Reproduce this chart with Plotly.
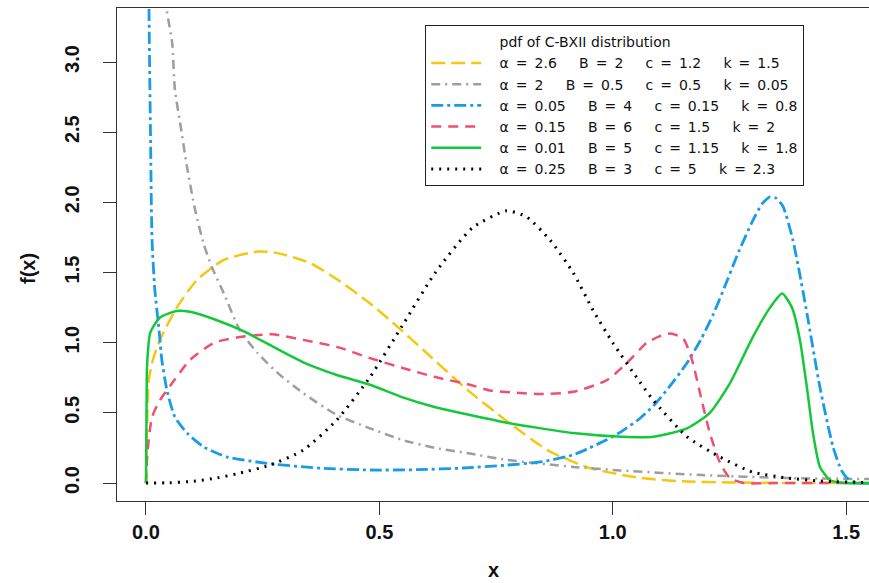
import plotly.graph_objects as go

# ---- data ----
yellow_x = [0, 0.002, 0.006, 0.015, 0.03, 0.066, 0.11, 0.167, 0.24, 0.28, 0.35, 0.41, 0.48, 0.54, 0.61, 0.69, 0.77, 0.86, 0.95, 1.06, 1.15, 1.25, 1.4, 1.6]
yellow_y = [0, 0.35, 0.73, 0.88, 1.02, 1.25, 1.45, 1.59, 1.65, 1.64, 1.57, 1.45, 1.28, 1.11, 0.90, 0.66, 0.45, 0.235, 0.107, 0.036, 0.012, 0.004, 0.0, 0.0]

gray_x = [0.01, 0.02, 0.03, 0.045, 0.056, 0.062, 0.073, 0.088, 0.105, 0.124, 0.141, 0.167, 0.201, 0.238, 0.28, 0.337, 0.409, 0.48, 0.55, 0.62, 0.694, 0.773, 0.915, 1.016, 1.19, 1.37, 1.55]
gray_y = [6.0, 4.6, 3.9, 3.36, 3.14, 2.80, 2.57, 2.25, 1.95, 1.70, 1.54, 1.35, 1.09, 0.93, 0.79, 0.64, 0.485, 0.39, 0.306, 0.25, 0.21, 0.165, 0.115, 0.09, 0.057, 0.036, 0.028]

blue_x = [0.003, 0.0064, 0.0096, 0.013, 0.019, 0.028, 0.034, 0.045, 0.062, 0.088, 0.124, 0.174, 0.238, 0.28, 0.38, 0.48, 0.58, 0.68, 0.773, 0.844, 0.915, 0.95, 0.988, 1.02, 1.058, 1.087, 1.12, 1.159, 1.19, 1.215, 1.24, 1.27, 1.30, 1.32, 1.337, 1.35, 1.365, 1.386, 1.40, 1.416, 1.444, 1.472, 1.49, 1.502, 1.52, 1.6]
blue_y = [6.0, 3.4, 2.5, 1.73, 1.375, 1.09, 0.876, 0.66, 0.47, 0.356, 0.257, 0.185, 0.15, 0.132, 0.105, 0.093, 0.095, 0.107, 0.128, 0.15, 0.20, 0.25, 0.31, 0.37, 0.46, 0.55, 0.68, 0.855, 1.03, 1.20, 1.40, 1.65, 1.87, 1.99, 2.04, 2.03, 1.97, 1.73, 1.50, 1.21, 0.68, 0.257, 0.09, 0.036, 0.005, 0.0]

red_x = [0, 0.003, 0.013, 0.03, 0.06, 0.094, 0.146, 0.2, 0.27, 0.337, 0.409, 0.48, 0.55, 0.62, 0.694, 0.737, 0.79, 0.844, 0.915, 0.988, 1.03, 1.073, 1.10, 1.123, 1.151, 1.17, 1.187, 1.208, 1.23, 1.251, 1.28, 1.35, 1.6]
red_y = [0, 0.21, 0.47, 0.59, 0.73, 0.876, 1.0, 1.04, 1.06, 1.02, 0.97, 0.89, 0.82, 0.755, 0.70, 0.66, 0.645, 0.634, 0.65, 0.734, 0.855, 1.0, 1.045, 1.065, 1.03, 0.876, 0.64, 0.356, 0.143, 0.036, 0.0, 0.0, 0.0]

green_x = [0, 0.001, 0.002, 0.004, 0.009, 0.03, 0.066, 0.094, 0.152, 0.21, 0.27, 0.337, 0.409, 0.48, 0.55, 0.62, 0.694, 0.773, 0.915, 1.02, 1.087, 1.159, 1.208, 1.251, 1.30, 1.337, 1.363, 1.384, 1.401, 1.416, 1.429, 1.444, 1.466, 1.5, 1.6]
green_y = [0, 0.45, 0.8, 0.93, 1.07, 1.18, 1.226, 1.22, 1.16, 1.08, 0.975, 0.86, 0.77, 0.70, 0.61, 0.54, 0.485, 0.43, 0.356, 0.33, 0.33, 0.39, 0.50, 0.71, 1.04, 1.25, 1.35, 1.25, 1.02, 0.68, 0.356, 0.114, 0.02, 0.0, 0.0]

black_x = [0, 0.05, 0.1, 0.152, 0.2, 0.266, 0.337, 0.409, 0.48, 0.55, 0.62, 0.70, 0.773, 0.816, 0.866, 0.915, 0.958, 1.0, 1.058, 1.087, 1.159, 1.23, 1.30, 1.373, 1.444, 1.55, 1.65]
black_y = [0, 0.002, 0.012, 0.036, 0.07, 0.128, 0.235, 0.45, 0.755, 1.126, 1.50, 1.82, 1.94, 1.895, 1.73, 1.50, 1.23, 1.0, 0.72, 0.59, 0.33, 0.185, 0.078, 0.036, 0.014, 0.003, 0.0]

x_ticks = [0, 0.5, 1.0, 1.5]
x_tick_labels = ["0.0", "0.5", "1.0", "1.5"]
y_ticks = [0, 0.5, 1.0, 1.5, 2.0, 2.5, 3.0]
y_tick_labels = ["0.0", "0.5", "1.0", "1.5", "2.0", "2.5", "3.0"]

legend_title = "pdf of C-BXII distribution"
S = "\u00a0"
E = "\u2002"
G = S * 5
LEAD = S * 3
def lab(a, b, c, k):
    return f"{LEAD}α{E}={E}{a}{G}B{E}={E}{b}{G}c{E}={E}{c}{G}k{E}={E}{k}"
names = [lab("2.6", "2", "1.2", "1.5"), lab("2", "0.5", "0.5", "0.05"),
         lab("0.05", "4", "0.15", "0.8"), lab("0.15", "6", "1.5", "2"),
         lab("0.01", "5", "1.15", "1.8"), lab("0.25", "3", "5", "2.3")]

series = [
    (yellow_x, yellow_y, "#F5C710", "14px,6px", 2.5),
    (gray_x, gray_y, "#9E9E9E", "9px,5px,2px,5px", 2.5),
    (blue_x, blue_y, "#1A9BE6", "12px,4px,3px,4px", 2.8),
    (red_x, red_y, "#F0506E", "10px,7px", 2.5),
    (green_x, green_y, "#14C83C", "solid", 2.5),
    (black_x, black_y, "#000000", "2px,6px", 3),
]

fig = go.Figure()
fig.add_trace(go.Scatter(x=[None], y=[None], mode="lines", name=LEAD + legend_title,
                         line=dict(width=0, color="rgba(0,0,0,0)")))
for (xs, ys, col, dash, w), nm in zip(series, names):
    fig.add_trace(go.Scatter(x=xs, y=ys, mode="lines", name=nm,
                             line=dict(color=col, dash=dash, width=w, shape="spline", smoothing=0.6)))

font_fam = "Liberation Sans, Arial, sans-serif"
leg_fam = "DejaVu Sans, sans-serif"
fig.update_layout(
    width=869, height=583,
    margin=dict(l=117, r=0, t=8, b=82),
    plot_bgcolor="white", paper_bgcolor="white",
    showlegend=True,
    legend=dict(x=0.4096, y=0.9655, xanchor="left", yanchor="top",
                bordercolor="#222", borderwidth=1.2, bgcolor="white",
                font=dict(family=leg_fam, size=14, color="#111"),
                itemwidth=50, traceorder="normal"),
    xaxis=dict(range=[-0.0621, 1.549], tickvals=x_ticks, ticktext=x_tick_labels,
               ticks="outside", ticklen=13, tickcolor="#333", showline=True,
               linecolor="#333", linewidth=1.2, mirror=True, showgrid=False, zeroline=False,
               ticklabelstandoff=0,
               tickfont=dict(family=font_fam, size=20, color="#111", weight="bold")),
    yaxis=dict(range=[-0.128, 3.385], tickvals=y_ticks, ticktext=y_tick_labels,
               ticks="outside", ticklen=13, tickcolor="#333", showline=True,
               linecolor="#333", linewidth=1.2, showgrid=False, zeroline=False, tickangle=-90,
               ticklabelstandoff=16,
               tickfont=dict(family=font_fam, size=20, color="#111", weight="bold")),
    annotations=[
        dict(text="f(x)", xref="paper", yref="paper", x=-0.1184, y=0.4726, showarrow=False,
             xanchor="center", yanchor="middle", textangle=-90,
             font=dict(family=font_fam, size=20, color="#111", weight="bold")),
        dict(text="x", xref="paper", yref="paper", x=0.501, y=-0.14, showarrow=False,
             xanchor="center", yanchor="middle",
             font=dict(family=font_fam, size=20, color="#111", weight="bold")),
    ],
)
fig.write_html("out.html")
